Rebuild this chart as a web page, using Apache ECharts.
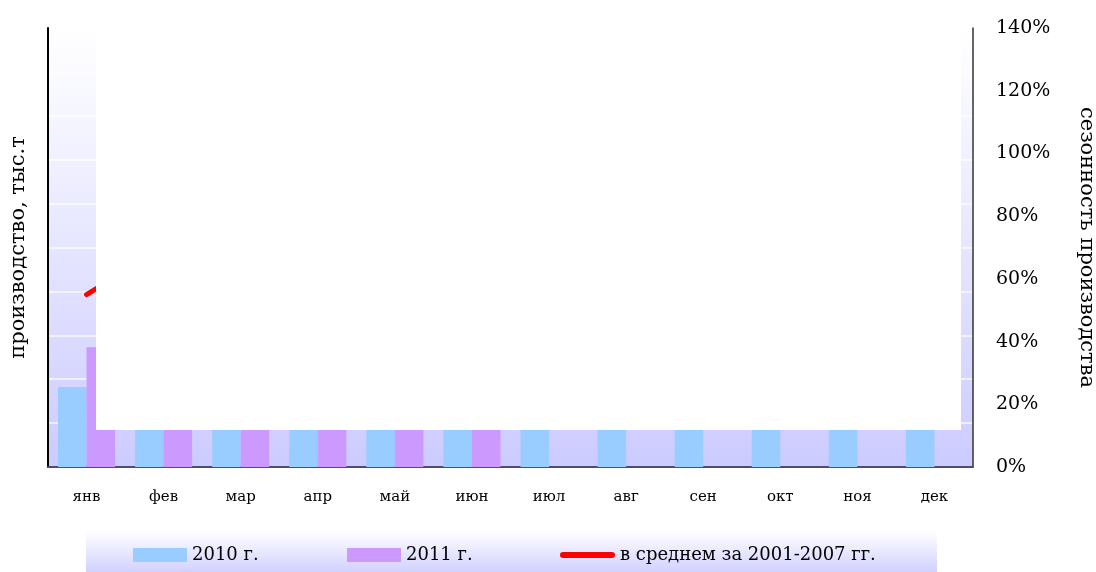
<!DOCTYPE html>
<html>
<head>
<meta charset="utf-8">
<script src="https://cdn.jsdelivr.net/npm/echarts@6/dist/echarts.min.js"></script>
<style>html,body{margin:0;padding:0;background:#fff}#c{width:1096px;height:572px}</style>
</head>
<body>
<div id="c"></div>
<script>
const categories = ['янв','фев','мар','апр','май','июн','июл','авг','сен','окт','ноя','дек'];
const prod2010 = [1.82, 2.0, 2.3, 2.5, 2.7, 2.9, 3.0, 3.1, 2.9, 2.7, 2.4, 2.1];
const prod2011 = [2.73, 2.6, 2.8, 3.0, 3.2, 3.4, null, null, null, null, null, null];
const seasonAvg = [0.55, 0.70, 0.88, 1.00, 1.08, 1.12, 1.15, 1.16, 1.12, 1.06, 0.98, 0.90];
const leftTicks = { min: 0, max: 10, interval: 1 };
const rightTicks = { min: 0, max: 1.4, interval: 0.2 };
const seriesNames = ['2010 г.', '2011 г.', 'в среднем за 2001-2007 гг.'];

const FONT = 'DejaVu Serif';
const chart = echarts.init(document.getElementById('c'), null, {renderer: 'canvas'});
const legendBase = {
  orient: 'horizontal', top: 545, padding: 0, itemGap: 0,
  textStyle: {fontFamily: FONT, fontSize: 18, color: '#000', lineHeight: 20, padding: [0,0,0,0]},
  selectedMode: false
};
chart.setOption({
  animation: false,
  backgroundColor: '#ffffff',
  grid: {
    left: 48, right: 123, top: 28, bottom: 105, show: true, borderWidth: 0,
    containLabel: false, outerBoundsMode: 'none',
    backgroundColor: {type: 'linear', x: 0, y: 0, x2: 0, y2: 1,
      colorStops: [{offset: 0, color: '#ffffff'}, {offset: 0.15, color: '#f8f8ff'}, {offset: 1, color: '#cccbff'}]}
  },
  legend: [
    Object.assign({}, legendBase, {left: 133, data: [seriesNames[0]], itemWidth: 54, itemHeight: 14, icon: 'rect'}),
    Object.assign({}, legendBase, {left: 347, data: [seriesNames[1]], itemWidth: 54, itemHeight: 14, icon: 'rect'}),
    Object.assign({}, legendBase, {left: 560, data: [seriesNames[2]], itemWidth: 55, itemHeight: 6,
      icon: 'path://M3,0 L52,0 A3,3 0 0 1 52,6 L3,6 A3,3 0 0 1 3,0 Z',
      itemStyle: {color: '#ff0000', borderWidth: 0}})
  ],
  graphic: [
    {type: 'rect', left: 86, top: 531, z: -1, silent: true,
      shape: {width: 851, height: 41},
      style: {fill: {type: 'linear', x: 0, y: 0, x2: 0, y2: 1,
        colorStops: [{offset: 0, color: '#ffffff'}, {offset: 1, color: '#d2d1ff'}]}}},
    {type: 'rect', left: 96, top: 27, z: 50, silent: true,
      shape: {width: 865, height: 403},
      style: {fill: '#ffffff'}}
  ],
  xAxis: {
    type: 'category', data: categories,
    axisLine: {show: true, lineStyle: {color: '#4d4d70', width: 2}},
    axisTick: {show: false},
    axisLabel: {fontFamily: FONT, fontSize: 15, color: '#000', margin: 23},
    splitLine: {show: false}
  },
  yAxis: [
    {
      type: 'value', min: leftTicks.min, max: leftTicks.max, interval: leftTicks.interval,
      name: 'производство, тыс.т', nameLocation: 'middle', nameGap: 19,
      nameTextStyle: {fontFamily: FONT, fontSize: 21, color: '#000'},
      axisLine: {show: true, lineStyle: {color: '#000', width: 2}},
      axisTick: {show: false},
      axisLabel: {show: false},
      splitLine: {show: true, lineStyle: {color: 'rgba(255,255,255,0.85)', width: 1.5}}
    },
    {
      type: 'value', position: 'right', min: rightTicks.min, max: rightTicks.max, interval: rightTicks.interval,
      name: 'сезонность производства', nameLocation: 'middle', nameGap: 103, nameRotate: -90,
      nameTextStyle: {fontFamily: FONT, fontSize: 21, color: '#000'},
      axisLine: {show: true, lineStyle: {color: '#333', width: 1.5}},
      axisTick: {show: false},
      axisLabel: {fontFamily: FONT, fontSize: 19, color: '#000', margin: 23,
        formatter: v => Math.round(v * 100) + '%'},
      splitLine: {show: false}
    }
  ],
  series: [
    {name: seriesNames[0], type: 'bar', data: prod2010, yAxisIndex: 0,
      barGap: '0%', barCategoryGap: '26%', itemStyle: {color: '#99ccff'}},
    {name: seriesNames[1], type: 'bar', data: prod2011, yAxisIndex: 0,
      barGap: '0%', barCategoryGap: '26%', itemStyle: {color: '#cc99ff'}},
    {name: seriesNames[2], type: 'line', data: seasonAvg, yAxisIndex: 1,
      showSymbol: false, symbol: 'none', color: '#ff0000',
      lineStyle: {color: '#ff0000', width: 5, cap: 'round'}}
  ]
});
</script>
</body>
</html>
